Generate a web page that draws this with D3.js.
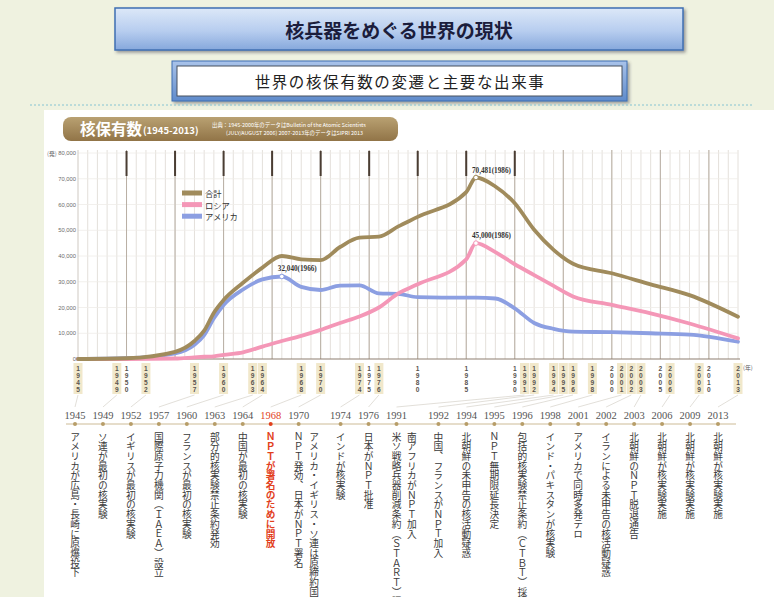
<!DOCTYPE html>
<html lang="ja">
<head>
<meta charset="utf-8">
<script src="https://cdn.jsdelivr.net/npm/d3@7"></script>
<style>
  body { margin: 0; background: #eff2e0; }
  svg { display: block; }
</style>
</head>
<body>
<svg id="chart" width="774" height="597"></svg>
<script>
// ---- data -------------------------------------------------------------
const years      = [1945, 1950, 1955, 1957, 1958, 1959, 1960, 1962, 1964, 1966, 1968, 1970, 1972, 1974, 1976, 1978, 1980, 1985, 1986, 1988, 1990, 1992, 1994, 1996, 2000, 2004, 2008, 2013];
const totalVals  = [2, 300, 2800, 7000, 11000, 18000, 22900, 29600, 35500, 40000, 38700, 38400, 43500, 47100, 47500, 51500, 55200, 64800, 70481, 67000, 60500, 50200, 42400, 37000, 33300, 29000, 24800, 16400];
const russiaVals = [0, 5, 200, 650, 870, 1060, 1600, 2600, 4800, 7000, 9000, 11300, 14000, 16500, 20000, 25500, 29000, 38700, 45000, 41500, 36800, 32600, 28400, 24300, 21000, 17700, 13800, 8000];
const usaVals    = [2, 300, 2200, 5500, 9300, 15800, 21000, 27000, 30900, 32040, 28000, 26800, 28500, 28600, 25500, 25300, 24000, 23800, 23800, 23500, 19700, 14000, 11700, 10600, 10400, 10000, 9500, 6700];

const seriesNames  = ["合計", "ロシア", "アメリカ"];
const seriesColors = ["#a08b5c", "#f497b7", "#8c9fe2"];

const peakNotes = [
  { series: 0, year: 1986, label: "70,481(1986)" },
  { series: 1, year: 1986, label: "45,000(1986)" },
  { series: 2, year: 1966, label: "32,040(1966)" }
];

const yTicks = [0, 10000, 20000, 30000, 40000, 50000, 60000, 70000, 80000];
const axisYears = [1945, 1949, 1950, 1952, 1957, 1960, 1963, 1964, 1968, 1970, 1974, 1975, 1976, 1980, 1985, 1990, 1991, 1992, 1994, 1995, 1996, 1998, 2000, 2001, 2002, 2003, 2005, 2006, 2009, 2010, 2013];

const eventYears = [1945, 1949, 1952, 1957, 1960, 1963, 1964, 1968, 1970, 1974, 1976, 1991, 1992, 1994, 1995, 1996, 1998, 2001, 2002, 2003, 2006, 2009, 2013];
const eventTexts = [
  ["アメリカが広島・長崎に原爆投下"],
  ["ソ連が最初の核実験"],
  ["イギリスが最初の核実験"],
  ["国際原子力機関（ＩＡＥＡ）設立"],
  ["フランスが最初の核実験"],
  ["部分的核実験禁止条約発効"],
  ["中国が最初の核実験"],
  ["ＮＰＴが署名のために開放"],
  ["ＮＰＴ発効、日本がＮＰＴ署名", "アメリカ・イギリス・ソ連は原締約国"],
  ["インドが核実験"],
  ["日本がＮＰＴ批准"],
  ["米ソ戦略兵器削減条約（ＳＴＡＲＴ）調印", "南アフリカがＮＰＴ加入"],
  ["中国、フランスがＮＰＴ加入"],
  ["北朝鮮の未申告の核活動疑惑"],
  ["ＮＰＴ無期限延長決定"],
  ["包括的核実験禁止条約（ＣＴＢＴ）採択"],
  ["インド・パキスタンが核実験"],
  ["アメリカで同時多発テロ"],
  ["イランによる未申告の核活動疑惑"],
  ["北朝鮮のＮＰＴ脱退通告"],
  ["北朝鮮が核実験実施"],
  ["北朝鮮が核実験実施"],
  ["北朝鮮が核実験実施"]
];
const highlightEvent = 1968;

// ---- setup ------------------------------------------------------------
const svg = d3.select("#chart");
const defs = svg.append("defs");
const JP = "'Noto Sans CJK JP', 'Noto Sans', sans-serif";

const gTitle = defs.append("linearGradient").attr("id", "gTitle").attr("x1", 0).attr("y1", 0).attr("x2", 0).attr("y2", 1);
gTitle.append("stop").attr("offset", "0%").attr("stop-color", "#dce8f8");
gTitle.append("stop").attr("offset", "55%").attr("stop-color", "#b7cdef");
gTitle.append("stop").attr("offset", "100%").attr("stop-color", "#86a8dc");

const gFrame = defs.append("linearGradient").attr("id", "gFrame").attr("x1", 0).attr("y1", 0).attr("x2", 0).attr("y2", 1);
gFrame.append("stop").attr("offset", "0%").attr("stop-color", "#a9c3ea");
gFrame.append("stop").attr("offset", "100%").attr("stop-color", "#5f8bcb");

const gBar = defs.append("linearGradient").attr("id", "gBar").attr("x1", 0).attr("y1", 0).attr("x2", 0).attr("y2", 1);
gBar.append("stop").attr("offset", "0%").attr("stop-color", "#b9a172");
gBar.append("stop").attr("offset", "100%").attr("stop-color", "#917447");

const shadow = defs.append("filter").attr("id", "shadow").attr("x", "-5%").attr("y", "-20%").attr("width", "115%").attr("height", "150%");
shadow.append("feDropShadow").attr("dx", 2).attr("dy", 2).attr("stdDeviation", 1.5).attr("flood-color", "#334").attr("flood-opacity", 0.45);

// ---- headings ---------------------------------------------------------
svg.append("rect").attr("x", 44).attr("y", 110).attr("width", 730).attr("height", 487).attr("fill", "#ffffff");

svg.append("rect").attr("x", 115).attr("y", 8).attr("width", 568).attr("height", 42)
  .attr("fill", "url(#gTitle)").attr("stroke", "#3f6fb2").attr("stroke-width", 1.5).attr("filter", "url(#shadow)");
svg.append("text").attr("x", 399).attr("y", 29).attr("text-anchor", "middle").attr("dominant-baseline", "central")
  .attr("font-family", JP).attr("font-weight", 700).attr("font-size", 19).attr("fill", "#1b1d3c")
  .text("核兵器をめぐる世界の現状");

svg.append("rect").attr("x", 172).attr("y", 61).attr("width", 455).attr("height", 40)
  .attr("fill", "url(#gFrame)").attr("stroke", "#3f6fb2").attr("stroke-width", 1).attr("filter", "url(#shadow)");
svg.append("rect").attr("x", 177).attr("y", 66).attr("width", 445).attr("height", 30)
  .attr("fill", "#ffffff").attr("stroke", "#46505e").attr("stroke-width", 1);
svg.append("text").attr("x", 400).attr("y", 81).attr("text-anchor", "middle").attr("dominant-baseline", "central")
  .attr("font-family", JP).attr("font-size", 15.5).attr("letter-spacing", 1.6).attr("fill", "#222")
  .text("世界の核保有数の変遷と主要な出来事");

svg.append("line").attr("x1", 30).attr("x2", 752).attr("y1", 105).attr("y2", 105)
  .attr("stroke", "#86c4d2").attr("stroke-width", 1).attr("stroke-dasharray", "2,2");

// chart header bar
svg.append("rect").attr("x", 63).attr("y", 117).attr("width", 335).attr("height", 24).attr("rx", 8)
  .attr("fill", "url(#gBar)");
svg.append("text").attr("x", 80).attr("y", 135).attr("font-family", JP).attr("font-weight", 700)
  .attr("font-size", 15.5).attr("fill", "#fff").text("核保有数");
svg.append("text").attr("x", 143).attr("y", 134).attr("font-family", JP).attr("font-weight", 700)
  .attr("font-size", 9.5).attr("fill", "#fff").text("(1945-2013)");
svg.append("text").attr("x", 212).attr("y", 127).attr("font-family", JP)
  .attr("font-size", 5.4).attr("fill", "#fff").text("出典：1945-2000年のデータはBulletin of the Atomic Scientists");
svg.append("text").attr("x", 226).attr("y", 135).attr("font-family", JP)
  .attr("font-size", 5.4).attr("fill", "#fff").text("(JULY/AUGUST 2006) 2007-2013年のデータはSIPRI 2013");

// ---- chart ------------------------------------------------------------
const x = d3.scaleLinear().domain([1945, 2013]).range([78, 738]);
const y = d3.scaleLinear().domain([0, 80000]).range([359, 153]);
const plotTop = 150, plotBottom = 359;

const grid = svg.append("g");
// one faint line per year
grid.selectAll("line.yr").data(d3.range(1946, 2014)).join("line")
  .attr("x1", d => x(d)).attr("x2", d => x(d)).attr("y1", plotTop).attr("y2", plotBottom)
  .attr("stroke", "#e1ddd7").attr("stroke-width", 0.9);
// horizontal gridlines
grid.selectAll("line.h").data(yTicks.slice(1)).join("line")
  .attr("x1", x(1945)).attr("x2", x(2013)).attr("y1", d => y(d)).attr("y2", d => y(d))
  .attr("stroke", "#efece8").attr("stroke-width", 0.8);
// five-year lines
grid.selectAll("line.five").data(d3.range(1950, 2014, 5)).join("line")
  .attr("x1", d => x(d)).attr("x2", d => x(d)).attr("y1", plotTop).attr("y2", plotBottom)
  .attr("stroke", "#b9afa4").attr("stroke-width", 1);
// dark ticks along the top
grid.selectAll("line.top").data(d3.range(1950, 1991, 5)).join("line")
  .attr("x1", d => x(d)).attr("x2", d => x(d)).attr("y1", plotTop + 1).attr("y2", plotTop + 26)
  .attr("stroke", "#4a3d33").attr("stroke-width", 2);
// left and bottom axis lines
grid.append("line").attr("x1", x(1945)).attr("x2", x(1945)).attr("y1", plotTop).attr("y2", plotBottom)
  .attr("stroke", "#cfc9c2").attr("stroke-width", 1);
grid.append("line").attr("x1", x(1945)).attr("x2", x(2013) + 2).attr("y1", plotBottom).attr("y2", plotBottom)
  .attr("stroke", "#8d7e70").attr("stroke-width", 1.2);

// y tick labels
svg.append("g").selectAll("text").data(yTicks).join("text")
  .attr("x", 76).attr("y", d => y(d)).attr("text-anchor", "end").attr("dominant-baseline", "central")
  .attr("font-family", "'Liberation Sans', sans-serif").attr("font-size", 5.8).attr("fill", "#6b6b6b")
  .text(d => d3.format(",")(d));
svg.append("text").attr("x", 47).attr("y", y(80000)).attr("dominant-baseline", "central")
  .attr("font-family", JP).attr("font-size", 5.8).attr("fill", "#6b6b6b").text("(発)");

// series lines
const seriesVals = [totalVals, russiaVals, usaVals];
const line = d3.line().x(d => x(d[0])).y(d => y(d[1])).curve(d3.curveMonotoneX);
const drawOrder = [2, 1, 0];
svg.append("g").selectAll("path").data(drawOrder).join("path")
  .attr("d", i => line(years.map((yr, k) => [yr, seriesVals[i][k]])))
  .attr("fill", "none").attr("stroke", i => seriesColors[i]).attr("stroke-width", 3.8)
  .attr("stroke-linejoin", "round").attr("stroke-linecap", "round");

// peak notes
const notes = svg.append("g");
peakNotes.forEach(p => {
  const v = seriesVals[p.series][years.indexOf(p.year)];
  const px = x(p.year), py = y(v);
  notes.append("circle").attr("cx", px).attr("cy", py).attr("r", 2.3)
    .attr("fill", "#fff").attr("stroke", seriesColors[p.series]).attr("stroke-width", 1);
  notes.append("text").attr("x", px - 4).attr("y", py - 5)
    .attr("font-family", "'Liberation Serif', serif").attr("font-weight", 700).attr("font-size", 7.2)
    .attr("fill", "#333").text(p.label);
});

// legend
const legend = svg.append("g");
seriesNames.forEach((name, i) => {
  legend.append("rect").attr("x", 182).attr("y", 190.5 + i * 11.6).attr("width", 20).attr("height", 5)
    .attr("fill", seriesColors[i]);
  legend.append("text").attr("x", 205).attr("y", 193 + i * 11.6).attr("dominant-baseline", "central")
    .attr("font-family", JP).attr("font-size", 8.3).attr("fill", "#333").text(name);
});

// year labels under the axis, one digit per row
const axisG = svg.append("g");
axisYears.forEach(yr => {
  const cx = x(yr);
  if (eventYears.includes(yr)) {
    axisG.append("rect").attr("x", cx - 4.5).attr("y", 363).attr("width", 9).attr("height", 31)
      .attr("fill", "#f1e8cb");
  }
  String(yr).split("").forEach((ch, k) => {
    axisG.append("text").attr("x", cx).attr("y", 368 + k * 7.1).attr("text-anchor", "middle")
      .attr("dominant-baseline", "central").attr("font-family", "'Liberation Sans', sans-serif")
      .attr("font-weight", 700).attr("font-size", 6.6).attr("fill", "#5a5550").text(ch);
  });
});
svg.append("text").attr("x", 743).attr("y", 367).attr("dominant-baseline", "central")
  .attr("font-family", JP).attr("font-size", 5.8).attr("fill", "#555").text("(年)");

// ---- event timeline ---------------------------------------------------
// columns: years with two entries take a little extra room
const slot = [];
let acc = 0;
eventYears.forEach((yr, i) => { slot.push(acc); acc += eventTexts[i].length > 1 ? 1.5 : 1; });
const tl = d3.scaleLinear().domain([0, slot[slot.length - 1]]).range([75, 718]);
const colStep = tl(0.55) - tl(0);

const tlG = svg.append("g");
// connectors from the axis labels to the timeline labels
tlG.selectAll("line.conn").data(eventYears).join("line")
  .attr("x1", d => x(d)).attr("y1", 395).attr("x2", (d, i) => tl(slot[i])).attr("y2", 407)
  .attr("stroke", "#d6d1c8").attr("stroke-width", 0.7);

tlG.append("line").attr("x1", 66).attr("x2", 736).attr("y1", 424).attr("y2", 424)
  .attr("stroke", "#cdbb96").attr("stroke-width", 1);

eventYears.forEach((yr, i) => {
  const cx = tl(slot[i]);
  const hot = yr === highlightEvent;
  tlG.append("circle").attr("cx", cx).attr("cy", 424).attr("r", 2)
    .attr("fill", hot ? "#e2401c" : "#b79d68");
  tlG.append("text").attr("x", cx).attr("y", 419).attr("text-anchor", "middle")
    .attr("font-family", "'Liberation Serif', serif").attr("font-size", 10.5)
    .attr("fill", hot ? "#e2401c" : "#555").text(yr);
  eventTexts[i].forEach((t, k) => {
    tlG.append("text").attr("x", cx + k * colStep).attr("y", 432)
      .style("writing-mode", "vertical-rl").style("text-orientation", "mixed")
      .attr("font-family", JP).attr("font-size", 9.7)
      .attr("font-weight", hot ? 700 : 400)
      .attr("fill", hot ? "#e2401c" : "#3a3a3a").text(t);
  });
});
</script>
</body>
</html>
